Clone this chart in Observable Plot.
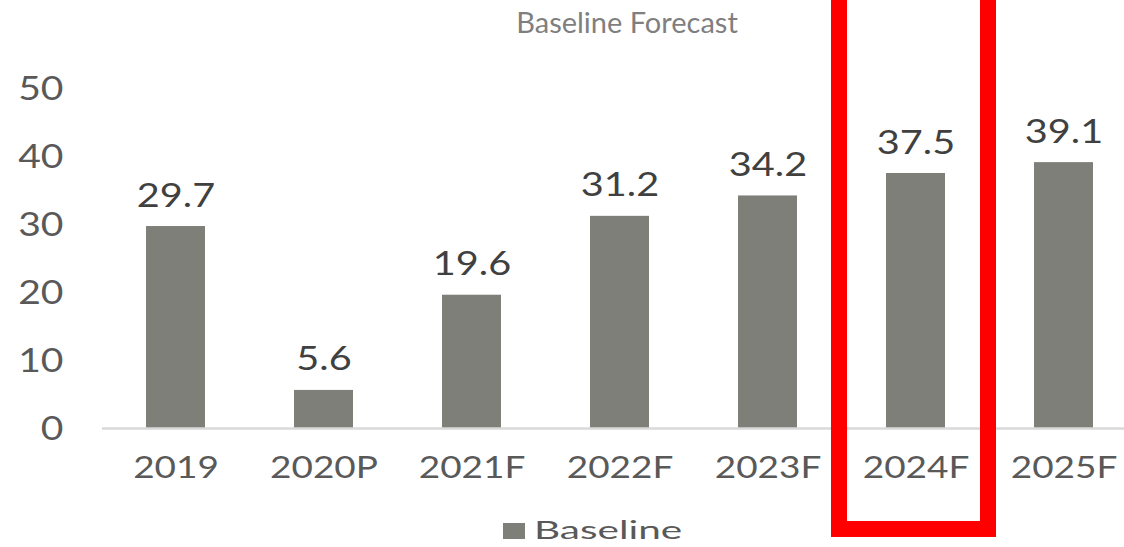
<!DOCTYPE html>
<html>
<head>
<meta charset="utf-8">
<script src="https://cdn.jsdelivr.net/npm/d3@7"></script>
<script src="https://cdn.jsdelivr.net/npm/@observablehq/plot@0.6"></script>
<style>
  body { margin: 0; background: #fff; overflow: hidden; }
  #wrap { position: relative; width: 1124px; height: 547px; }
  #title { position: absolute; left: 627px; top: 7px; transform: translateX(-50%);
           font-family: Lato, sans-serif; font-size: 29px; line-height: 1; color: #7f7f7f; white-space: nowrap; }
  #legend-swatch { position: absolute; left: 503px; top: 523px; width: 22px; height: 16px; background: #7f7f7a; }
  #legend-text { position: absolute; left: 534px; top: 517px; font-family: Lato, sans-serif; font-size: 25px;
                 line-height: 1; color: #595959; transform: scaleX(1.62); transform-origin: left center; white-space: nowrap; }
</style>
</head>
<body>
<div id="wrap">
  <div id="chart"></div>
  <div id="title">Baseline Forecast</div>
  <div id="legend-swatch"></div>
  <div id="legend-text">Baseline</div>
</div>
<script>
const years = ["2019", "2020P", "2021F", "2022F", "2023F", "2024F", "2025F"];
const baseline = [29.7, 5.6, 19.6, 31.2, 34.2, 37.5, 39.1];
const yTicks = [0, 10, 20, 30, 40, 50];
const highlightYears = ["2024F"];
const highlightSpan = [-14.85, 64.4];

const data = years.map((year, i) => ({year, value: baseline[i]}));

const chart = Plot.plot({
  width: 1124,
  height: 547,
  marginTop: 88,
  marginBottom: 119,
  marginLeft: 102,
  marginRight: -14.5,
  x: {domain: years, range: [101.5, 1137.5], paddingInner: 0.6, paddingOuter: 0.3, axis: null},
  y: {domain: [0, 50], axis: null},
  style: {fontFamily: "Lato, sans-serif", background: "transparent", overflow: "visible"},
  marks: [
    Plot.barY(data, {x: "year", y: "value", fill: "#7f7f7a"}),
    Plot.ruleY([0], {stroke: "#d9d9d9", strokeWidth: 2.5}),
    Plot.text(data, {x: "year", y: "value", text: d => d.value.toFixed(1), dy: -20, lineAnchor: "bottom",
                     fontSize: 32.5, fill: "#404040"}),
    Plot.text(years, {x: d => d, text: d => d, frameAnchor: "bottom", dy: 49, lineAnchor: "bottom",
                      fontSize: 30.3, fill: "#595959"}),
    Plot.text(yTicks, {y: d => d, text: d => String(d), frameAnchor: "left", textAnchor: "end", dx: -39,
                       dy: 11, lineAnchor: "bottom", fontSize: 32, fill: "#595959"}),
    Plot.barY(highlightYears, {x: d => d, y1: highlightSpan[0], y2: highlightSpan[1], fill: "none",
                               stroke: "#ff0000", strokeWidth: 16, insetLeft: -47, insetRight: -43})
  ]
});
document.getElementById("chart").appendChild(chart);

function apply() {
  chart.querySelectorAll("text").forEach(t => {
    t.removeAttribute("textLength");
    const L = t.getComputedTextLength();
    if (L > 0) {
      t.setAttribute("textLength", (L * 1.22).toFixed(2));
      t.setAttribute("lengthAdjust", "spacingAndGlyphs");
    }
  });
}
apply();
if (document.fonts && document.fonts.ready) document.fonts.ready.then(apply);
</script>
</body>
</html>
